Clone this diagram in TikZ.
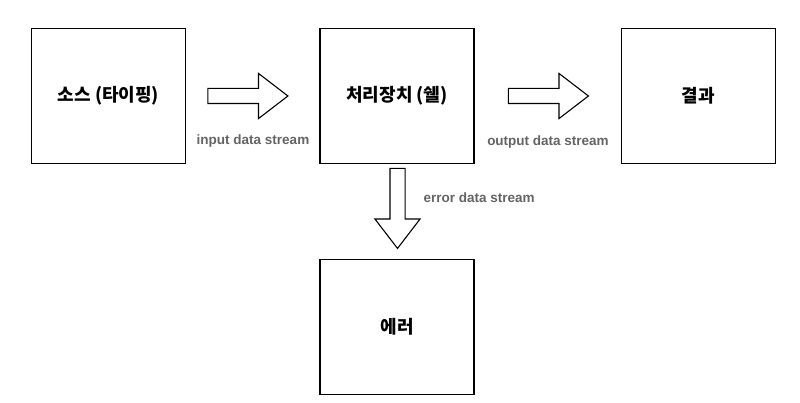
\documentclass[tikz,border=0pt]{standalone}
\usepackage{fontspec}
\setmainfont{Liberation Sans}
\newfontfamily\krfont{Noto Sans CJK KR}
\usetikzlibrary{positioning,shapes.arrows}

\definecolor{labelgray}{RGB}{100,100,100}

\tikzset{
  unit/.style={draw, line width=1.4pt, minimum width=154pt, minimum height=135pt,
    font=\krfont\bfseries\fontsize{18}{21}\selectfont},
  flow/.style={draw, line width=1.1pt, single arrow, minimum height=80pt, inner sep=7pt,
    single arrow head extend=15pt, single arrow tip angle=75},
  streamlabel/.style={text=labelgray, font=\bfseries\fontsize{13.5}{15}\selectfont}
}

\begin{document}
\begin{tikzpicture}[x=1pt,y=-1pt]
  \useasboundingbox (0,0) rectangle (800,403);

  % Boxes
  \node[unit] (source) at (108.5,96) {소스 (타이핑)};
  \node[unit] (shell) at (397,96) {처리장치 (쉘)};
  \node[unit] (result) at (698.5,96) {결과};
  \node[unit] (error) at (397,327) {에러};

  % Streams
  \node[flow] (inarrow) at (243,96) {};
  \node[flow] (outarrow) at (543.5,96) {};
  \node[flow, rotate=-90] (errarrow) at (397.5,203.5) {};

  % Labels
  \node[streamlabel] (inlabel) at (253,141) {input data stream};
  \node[streamlabel] (outlabel) at (548,142) {output data stream};
  \node[streamlabel, anchor=west] (errlabel) at (420,198) {error data stream};
\end{tikzpicture}
\end{document}
